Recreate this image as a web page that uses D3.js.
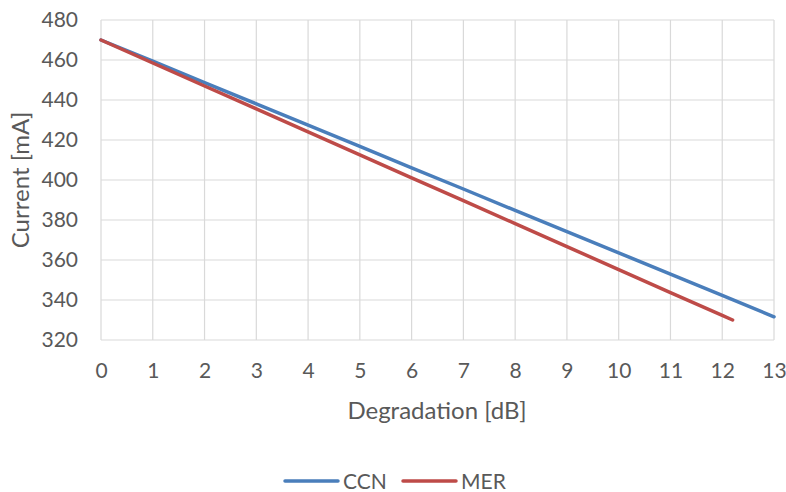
<!DOCTYPE html>
<html>
<head>
<meta charset="utf-8">
<script src="https://cdn.jsdelivr.net/npm/d3@7"></script>
<style>
  html, body { margin: 0; padding: 0; background: #fff; }
  svg { display: block; }
</style>
</head>
<body>
<svg id="chart" width="786" height="492"></svg>
<script>
// Degradation [dB] vs Current [mA]
const xTicks = [0, 1, 2, 3, 4, 5, 6, 7, 8, 9, 10, 11, 12, 13];
const yTicks = [320, 340, 360, 380, 400, 420, 440, 460, 480];

const ccnX = [0, 1, 2, 3, 4, 5, 6, 7, 8, 9, 10, 11, 12, 13];
const ccnY = [470, 459.4, 448.7, 438.1, 427.4, 416.8, 406.1, 395.5, 384.8, 374.2, 363.6, 352.9, 342.3, 331.6];

const merX = [0, 1, 2, 3, 4, 5, 6, 7, 8, 9, 10, 11, 12, 12.2];
const merY = [470, 458.5, 447, 435.6, 424.1, 412.6, 401.1, 389.7, 378.2, 366.7, 355.2, 343.7, 332.3, 330];

const seriesNames = ['CCN', 'MER'];

(function() {
    const COLORS = { CCN: '#4a7ebb', MER: '#be4b48' };
    const FONT = 'Lato, "Open Sans", sans-serif';
    const TEXT = '#595959';
    const GRID = '#d9d9d9';

    const svg = d3.select('#chart');
    const left = 101, right = 774, top = 20, bottom = 340;

    const x = d3.scaleLinear().domain([0, 13]).range([left, right]);
    const y = d3.scaleLinear().domain([320, 480]).range([bottom, top]);

    // Grid
    const grid = svg.append('g');
    xTicks.forEach(function(t) {
        grid.append('line')
            .attr('x1', x(t)).attr('x2', x(t))
            .attr('y1', top).attr('y2', bottom)
            .attr('stroke', GRID).attr('stroke-width', 1.2);
    });
    yTicks.forEach(function(t) {
        grid.append('line')
            .attr('x1', left).attr('x2', right)
            .attr('y1', y(t)).attr('y2', y(t))
            .attr('stroke', GRID).attr('stroke-width', 1.2);
    });

    // Axes (labels only)
    const xAxis = svg.append('g')
        .attr('transform', 'translate(0,' + bottom + ')')
        .call(d3.axisBottom(x).tickValues(xTicks).tickSize(0).tickPadding(23));
    const yAxis = svg.append('g')
        .attr('transform', 'translate(' + left + ',0)')
        .call(d3.axisLeft(y).tickValues(yTicks).tickSize(0).tickPadding(23));
    [xAxis, yAxis].forEach(function(a) {
        a.select('.domain').remove();
        a.selectAll('text')
            .attr('fill', TEXT)
            .attr('font-family', FONT)
            .attr('font-size', '21px');
    });

    // Lines
    const line = d3.line().x(function(d) { return x(d[0]); }).y(function(d) { return y(d[1]); });
    const data = {
        CCN: ccnX.map(function(v, i) { return [v, ccnY[i]]; }),
        MER: merX.map(function(v, i) { return [v, merY[i]]; }),
    };
    seriesNames.forEach(function(name) {
        svg.append('path')
            .datum(data[name])
            .attr('d', line)
            .attr('fill', 'none')
            .attr('stroke', COLORS[name])
            .attr('stroke-width', 3.5)
            .attr('stroke-linecap', 'round');
    });

    // Axis titles
    svg.append('text')
        .attr('x', 437).attr('y', 419)
        .attr('text-anchor', 'middle')
        .attr('fill', TEXT).attr('font-family', FONT).attr('font-size', '24px')
        .text('Degradation [dB]');
    svg.append('text')
        .attr('transform', 'translate(29,' + ((top + bottom) / 2) + ') rotate(-90)')
        .attr('text-anchor', 'middle')
        .attr('fill', TEXT).attr('font-family', FONT).attr('font-size', '24px')
        .text('Current [mA]');

    // Legend
    const legendX = [285, 403];
    seriesNames.forEach(function(name, i) {
        const g = svg.append('g').attr('transform', 'translate(' + legendX[i] + ',481)');
        g.append('line')
            .attr('x1', 0).attr('x2', 53)
            .attr('stroke', COLORS[name]).attr('stroke-width', 3.5)
            .attr('stroke-linecap', 'round');
        g.append('text')
            .attr('x', 58).attr('y', 7.5)
            .attr('fill', TEXT).attr('font-family', FONT).attr('font-size', '21px')
            .text(name);
    });
})();
</script>
</body>
</html>
